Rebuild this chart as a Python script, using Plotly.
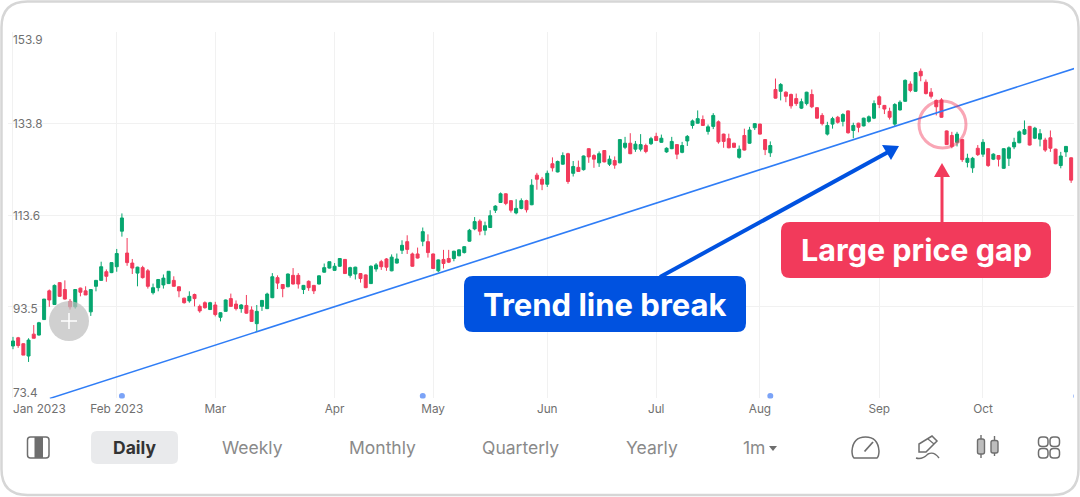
import plotly.graph_objects as go

# Daily sessions, Jan 2023 onward (session index = position in the lists)
opens = [84.9,86.7,85.4,82.7,87.5,87.3,90.7,97.0,94.0,98.8,97.3,94.7,93.5,97.6,97.0,92.4,98.0,99.3,101.2,101.0,
         102.3,110.1,105.3,103.1,100.9,102.1,101.4,96.6,97.7,98.3,98.6,99.3,97.9,95.4,94.8,96.2,93.6,94.4,92.9,93.9,
         91.2,92.5,95.3,94.1,93.1,93.8,92.8,89.8,93.6,93.1,95.5,99.9,98.4,97.9,100.4,100.4,97.3,99.1,98.2,98.5,
         101.1,102.0,101.5,102.4,103.9,100.4,100.7,100.8,100.5,98.6,101.8,103.4,104.0,101.4,103.1,105.9,107.8,105.1,105.1,107.9,
         107.8,105.1,101.4,103.9,104.1,104.1,104.7,105.4,107.9,110.6,112.3,110.3,110.9,114.7,116.4,118.3,116.8,114.1,115.1,116.8,
         115.9,122.4,121.5,120.4,124.9,123.1,124.8,127.1,122.8,124.1,123.6,128.2,126.7,125.1,127.8,124.8,125.6,125.1,128.5,129.4,
         128.1,128.1,128.9,129.3,130.9,129.6,127.5,128.2,129.1,127.4,129.9,133.3,133.8,134.6,132.0,133.1,134.1,131.4,130.4,129.4,
         126.3,131.1,129.4,132.8,133.6,130.2,127.3,141.2,140.8,140.6,140.1,139.2,137.1,138.1,140.1,137.2,135.5,131.4,133.6,135.1,
         134.2,136.5,132.2,133.8,133.2,134.2,134.9,139.6,137.7,136.4,133.6,136.7,138.6,142.4,140.8,145.2,142.8,140.6,138.8,138.9,
         132.1,131.1,129.6,130.2,125.2,124.0,128.3,127.0,128.2,125.9,126.7,123.9,126.1,128.6,129.5,131.4,133.1,130.5,130.3,130.1,
         130.6,128.1,124.5,127.5,126.2]
highs = [86.9,86.9,85.5,86.6,89.5,90.2,95.2,97.3,98.4,98.9,99.3,95.2,97.4,97.7,98.0,97.4,99.4,103.4,101.7,103.2,
         106.2,114.0,108.6,104.0,102.3,102.5,101.8,98.6,99.5,100.6,101.3,100.2,98.0,95.5,96.9,96.4,94.0,94.7,94.6,94.6,
         92.3,95.1,96.4,94.9,94.1,96.1,93.6,93.9,95.0,96.6,100.9,100.4,98.5,100.8,102.0,100.9,98.3,99.3,98.3,100.4,
         103.0,103.4,103.1,104.2,104.0,102.3,102.3,100.9,100.6,102.6,103.1,103.8,104.2,105.0,105.2,108.1,109.2,105.4,106.5,110.9,
         109.4,105.2,103.9,106.0,106.0,105.8,106.1,106.8,110.6,113.2,112.7,112.2,114.7,115.8,118.6,118.4,116.9,117.1,117.3,117.0,
         121.5,122.9,122.0,123.4,126.3,125.6,127.4,127.3,125.5,125.6,126.7,128.3,127.0,127.6,127.9,126.7,126.5,130.3,130.8,131.6,
         129.9,131.4,129.3,130.8,131.7,131.3,128.5,130.8,129.2,129.7,131.2,134.6,136.6,135.5,133.5,136.0,134.4,131.5,131.5,129.5,
         128.9,132.6,133.0,133.8,133.7,130.3,129.8,143.6,142.6,140.8,140.3,140.3,139.2,140.7,141.2,137.3,136.0,134.1,135.2,135.4,
         136.0,136.6,133.9,133.9,135.0,135.5,138.8,139.9,137.8,137.2,138.2,138.8,143.4,143.0,145.0,145.8,143.4,141.5,139.0,139.3,
         132.2,131.9,131.9,130.3,127.1,126.4,129.0,130.3,128.3,127.2,126.8,128.3,128.7,130.6,132.2,134.4,133.2,133.0,132.5,130.6,
         132.2,128.2,127.5,128.8,126.3]
lows = [84.2,84.5,82.9,81.4,86.6,87.2,90.6,93.5,93.9,95.7,95.1,92.9,93.1,95.8,96.1,91.5,96.9,99.3,99.0,100.9,
        101.2,108.9,102.5,100.7,98.0,99.7,97.5,96.2,96.9,97.5,98.5,98.0,95.6,94.2,94.4,93.6,92.2,93.1,92.8,91.4,
        90.3,92.5,93.5,92.7,92.2,92.0,90.2,88.2,92.6,93.0,95.4,97.4,95.6,97.8,98.4,97.5,96.3,97.0,96.3,98.4,
        101.0,101.9,101.4,102.3,100.7,99.9,99.5,98.8,97.6,98.5,101.2,101.6,101.4,101.3,103.0,105.1,105.1,102.3,104.1,106.8,
        104.3,101.8,101.1,101.9,103.1,103.5,104.6,105.2,107.8,110.3,109.2,109.2,110.8,114.1,116.3,115.8,114.2,113.8,114.9,114.2,
        115.8,119.2,119.1,119.8,123.2,123.0,124.7,120.5,122.1,123.1,123.4,125.1,124.0,124.2,125.2,124.4,123.8,125.0,128.1,127.0,
        127.5,127.6,127.2,129.0,129.9,129.5,127.3,128.1,125.9,127.2,128.8,132.6,133.7,133.2,131.3,132.5,129.3,128.4,128.3,128.4,
        126.0,127.8,129.3,132.3,131.3,126.8,126.4,139.2,138.8,138.4,137.0,137.6,136.9,137.7,137.1,134.8,133.3,131.1,132.6,133.7,
        133.1,131.5,130.5,131.8,133.1,133.9,134.7,137.1,135.8,134.6,133.2,136.6,138.5,140.6,140.7,143.0,140.1,139.2,135.5,135.0,
        129.0,128.3,128.7,125.3,124.1,122.9,126.6,126.4,124.2,125.7,124.3,123.8,124.4,128.1,129.4,131.2,128.9,130.3,128.7,127.5,
        127.5,124.8,123.9,126.4,120.7]
closes = [86.0,85.0,82.9,86.2,86.6,90.0,95.2,95.0,98.2,95.8,95.2,93.5,97.3,96.7,96.1,97.3,99.3,102.3,100.2,103.2,
          105.2,113.0,103.2,102.0,102.2,99.9,98.0,97.7,99.5,99.8,101.3,98.0,97.0,94.4,95.8,95.3,92.6,93.3,94.4,91.8,
          92.2,95.0,93.6,93.1,93.9,92.1,90.3,92.5,94.9,96.3,100.1,98.7,97.5,100.7,98.5,98.5,98.2,97.7,97.0,100.3,
          102.1,103.4,102.4,104.1,100.8,102.1,102.2,99.7,97.7,102.4,102.7,102.3,102.2,104.4,104.0,107.0,106.1,102.4,104.2,110.0,
          105.4,101.9,103.8,103.0,103.3,105.7,106.0,106.7,110.3,112.2,110.1,111.3,113.5,115.6,118.3,116.2,114.7,115.1,116.8,114.8,
          120.2,121.5,120.4,122.8,124.0,125.4,126.7,121.0,124.3,123.2,126.6,126.4,125.9,127.1,125.3,125.9,124.6,130.2,129.4,127.1,
          129.2,129.1,127.6,130.4,130.0,130.5,128.3,129.8,127.0,128.9,130.9,134.3,134.8,133.3,133.0,135.5,129.7,129.8,128.4,128.5,
          128.1,127.9,132.3,133.7,131.4,128.0,128.9,139.3,142.3,139.7,137.6,138.1,138.5,140.6,137.4,134.9,133.7,133.3,134.8,134.0,
          135.7,131.7,133.3,132.9,134.9,135.2,138.1,137.9,136.9,135.1,137.9,138.4,143.2,141.0,144.9,144.2,140.3,139.7,137.4,135.1,
          129.1,128.7,131.4,125.8,126.1,126.1,126.9,129.6,124.5,127.0,125.9,128.2,128.4,129.6,131.9,132.4,129.0,132.7,131.5,127.9,
          128.3,124.9,126.6,128.7,121.3]
sessions = list(range(len(closes)))

month_ticks = [0, 20, 39, 62, 81, 103, 124, 144, 167, 187]
month_labels = ["", "Feb 2023", "Mar", "Apr", "May", "Jun", "Jul", "Aug", "Sep", "Oct"]
first_label = "Jan 2023"
price_ticks = [73.4, 93.5, 113.6, 133.8, 153.9]
price_labels = ["73.4", "93.5", "113.6", "133.8", "153.9"]
price_label_shift = [5, -2, -1, -1, -8]
event_sessions = [21, 79, 146, 205]
event_levels = [73.9, 73.9, 73.9, 73.9]
trend_sessions = [7.1, 204.6]
trend_prices = [73.4, 145.8]
tabs = ["Weekly", "Monthly", "Quarterly", "Yearly", "1m"]
tab_centres = [252, 382, 520, 652, 754]

W, H = 1080, 497
GREEN, RED, BLUE = "#06A66F", "#F23A5B", "#0052E0"
FONT = "Inter"


def px(x):
    return x / W


def py(y):
    return 1 - y / H


def P(x, y):
    return f"{px(x):.5f},{py(y):.5f}"


def round_rect(x0, y0, x1, y1, r):
    return (f"M{P(x0 + r, y0)} L{P(x1 - r, y0)} Q{P(x1, y0)} {P(x1, y0 + r)} "
            f"L{P(x1, y1 - r)} Q{P(x1, y1)} {P(x1 - r, y1)} L{P(x0 + r, y1)} "
            f"Q{P(x0, y1)} {P(x0, y1 - r)} L{P(x0, y0 + r)} Q{P(x0, y0)} {P(x0 + r, y0)} Z")


def path(d, fill=None, color=None, width=1.5, layer="above"):
    s = dict(type="path", xref="paper", yref="paper", path=d, layer=layer,
             line=dict(color=color or "rgba(0,0,0,0)", width=width if color else 0))
    if fill:
        s["fillcolor"] = fill
    return s


def line(x0, y0, x1, y1, color, width):
    return dict(type="line", xref="paper", yref="paper", x0=px(x0), y0=py(y0), x1=px(x1), y1=py(y1),
                line=dict(color=color, width=width), layer="above")


def circle(cx, cy, r, fill=None, color=None, width=0):
    return dict(type="circle", xref="paper", yref="paper", x0=px(cx - r), x1=px(cx + r),
                y0=py(cy + r), y1=py(cy - r), fillcolor=fill or "rgba(0,0,0,0)",
                line=dict(color=color or "rgba(0,0,0,0)", width=width), layer="above")


fig = go.Figure()
fig.add_trace(go.Scatter(x=trend_sessions, y=trend_prices, mode="lines",
                         line=dict(color="#2F7DF6", width=1.6), hoverinfo="skip"))
fig.add_trace(go.Candlestick(x=sessions, open=opens, high=highs, low=lows, close=closes,
                             increasing=dict(line=dict(color=GREEN, width=1), fillcolor=GREEN),
                             decreasing=dict(line=dict(color=RED, width=1), fillcolor=RED),
                             hoverinfo="skip"))
fig.add_trace(go.Scatter(x=event_sessions, y=event_levels, mode="markers",
                         marker=dict(size=6, color="#7BA3F7"), hoverinfo="skip"))

G = "#6E6E6E"
shapes = [
    # card outline
    path(round_rect(1.5, 1.5, 1078.5, 495, 26), color="#D6D6D6", width=2.5),
    # hide the gridlines left of the first session
    dict(type="rect", xref="x", yref="paper", x0=-1, x1=-0.15, y0=0.1, y1=1, fillcolor="white",
         line=dict(width=0), layer="between"),
    # add-button
    circle(69, 321, 20, fill="rgba(190,190,190,0.72)"),
    line(61, 321, 77, 321, "white", 1.5),
    line(69, 313, 69, 329, "white", 1.5),
    # gap highlight
    circle(942.5, 124.5, 23.5, color="rgba(242,58,91,0.45)", width=3),
    # trend callout
    line(660, 277, 890, 151, BLUE, 4),
    path(f"M{P(882, 145)} L{P(899, 146)} L{P(891, 160)} Z", fill=BLUE),
    path(round_rect(464, 276, 746, 332, 9), fill=BLUE),
    # gap callout
    line(942, 224, 942, 175, RED, 3),
    path(f"M{P(942, 163)} L{P(950, 177)} L{P(934, 177)} Z", fill=RED),
    path(round_rect(781, 222, 1051, 278, 9), fill=RED),
    # toolbar: selected tab
    path(round_rect(91, 431, 178, 464, 6), fill="#E9EAEC"),
    # toolbar: layout icon
    path(round_rect(27.5, 437, 49, 458, 3), color=G, width=1.5),
    path(f"M{P(34.5, 437)} L{P(43, 437)} L{P(43, 458)} L{P(34.5, 458)} Z", fill=G),
    # interval caret
    path(f"M{P(769, 446)} L{P(777, 446)} L{P(773, 451)} Z", fill=G),
    # gauge icon
    path(f"M{P(854, 458)} Q{P(852, 456)} {P(852, 451)} Q{P(853, 437)} {P(865.5, 437)} "
         f"Q{P(878, 437)} {P(879, 451)} Q{P(879, 456)} {P(877, 458)} Z", color=G, width=1.5),
    line(864.5, 451.5, 873, 442, G, 1.8),
    # pen icon
    path(f"M{P(919, 452)} L{P(919, 444)} L{P(932, 436)} L{P(937, 441)} L{P(926, 452)} Z", color=G, width=1.5),
    line(928, 439, 934, 444, G, 1.2),
    path(f"M{P(916, 458)} Q{P(922, 460)} {P(928, 454)} Q{P(934, 451)} {P(939, 458)}", color=G, width=1.4),
    # candles icon
    line(981, 435, 981, 458, G, 1.4),
    line(994.5, 436, 994.5, 456, G, 1.4),
    path(round_rect(977.5, 439, 984.5, 454, 2), fill="#BDBDBD", color=G, width=1.4),
    path(round_rect(991, 440.5, 998, 453, 2), fill="#BDBDBD", color=G, width=1.4),
    # grid icon
    path(round_rect(1038.5, 437, 1048, 446.5, 3.5), color=G, width=1.5),
    path(round_rect(1050, 437, 1059.5, 446.5, 3.5), color=G, width=1.5),
    path(round_rect(1038.5, 448.5, 1048, 458, 3.5), color=G, width=1.5),
    path(round_rect(1050, 448.5, 1059.5, 458, 3.5), color=G, width=1.5),
]

annotations = [dict(x=0, y=0, xref="x", yref="paper", yanchor="middle", xanchor="left", xshift=-2,
                    yshift=py(409) * H, text=first_label, showarrow=False,
                    font=dict(family=FONT, size=11.8, color="#707070"))]
for value, label, shift in zip(price_ticks, price_labels, price_label_shift):
    annotations.append(dict(x=px(10.5), y=value, xref="paper", yref="y", xanchor="left", yanchor="middle",
                            yshift=shift, text=label, showarrow=False,
                            font=dict(family=FONT, size=11.8, color="#707070")))


def page_text(text, x, y, size, color, weight=400):
    return dict(x=px(x), y=py(y), xref="paper", yref="paper", xanchor="center", yanchor="middle",
                text=text, showarrow=False, font=dict(family=FONT, size=size, color=color, weight=weight))


annotations.append(page_text("Trend line break", 605, 304, 31, "white", 700))
annotations.append(page_text("Large price gap", 916, 250, 30.5, "white", 700))
annotations.append(page_text("Daily", 134.5, 447.5, 17.5, "#333333", 700))
for tab, centre in zip(tabs, tab_centres):
    annotations.append(page_text(tab, centre, 447.5, 17.5, "#8A8A8A"))

fig.update_layout(
    width=W, height=H, margin=dict(l=0, r=0, t=0, b=0), paper_bgcolor="white", plot_bgcolor="white",
    showlegend=False, shapes=shapes, annotations=annotations, font=dict(family=FONT), boxgap=0.18,
    xaxis=dict(domain=[px(7.8), px(1074)], range=[-1, 204.55], rangeslider=dict(visible=False),
               tickvals=month_ticks, ticktext=month_labels, showgrid=True, gridcolor="#F1F1F1", gridwidth=1,
               zeroline=False, showline=False, ticks="", ticklabelstandoff=2,
               tickfont=dict(family=FONT, size=11.8, color="#707070")),
    yaxis=dict(domain=[py(398.4), py(31.6)], range=[73.4, 153.9], tickvals=price_ticks, showticklabels=False,
               showgrid=True, gridcolor="#F1F1F1", gridwidth=1, zeroline=False, showline=False, ticks=""),
)

fig.write_html("out.html", config=dict(displayModeBar=False),
               post_script="document.body.style.margin='0';document.body.style.overflow='hidden';")
